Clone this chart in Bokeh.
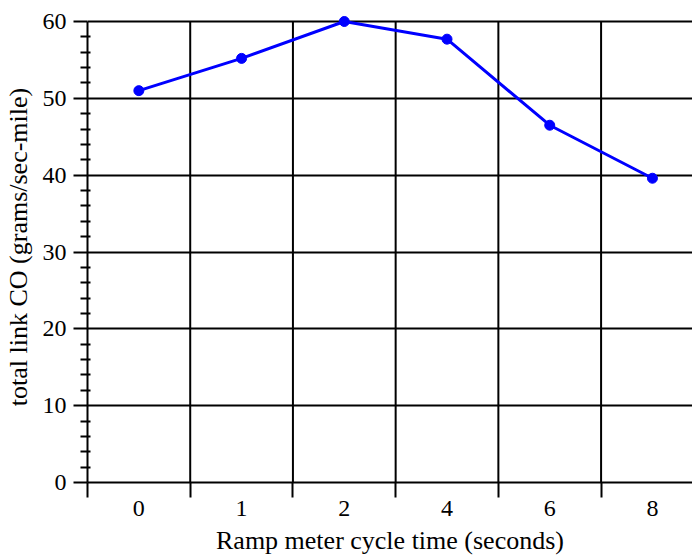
from bokeh.plotting import figure
from bokeh.models import FixedTicker, Range1d, ColumnDataSource
from bokeh.embed import file_html
from bokeh.resources import INLINE

categories = ["0", "1", "2", "4", "6", "8"]
co_values = [51.0, 55.2, 60.0, 57.7, 46.5, 39.6]
y_ticks = [0, 10, 20, 30, 40, 50, 60]
y_minor = [v for v in range(0, 61, 2) if v % 10 != 0]

idx = list(range(len(categories)))
bounds = [i - 0.5 for i in range(len(categories) + 1)]
src = ColumnDataSource(dict(x=idx, y=co_values))

FONT = "Liberation Serif"
Y_TOP = 60
px_per_unit = 461 / 60.0
y_end = Y_TOP + 10 / px_per_unit

p = figure(width=692, height=559, output_backend="svg", toolbar_location=None,
           x_range=Range1d(-0.5, len(categories) - 0.61), y_range=Range1d(0, y_end),
           min_border_left=87, min_border_right=0, min_border_top=11, min_border_bottom=77)
p.outline_line_color = None
p.background_fill_color = "white"
p.border_fill_color = "white"

# vertical separators between categories
p.segment(x0=bounds[1:], y0=[0] * (len(bounds) - 1), x1=bounds[1:], y1=[Y_TOP] * (len(bounds) - 1),
          line_color="black", line_width=2)

p.line("x", "y", source=src, line_color="#0000ff", line_width=3)
p.scatter("x", "y", source=src, size=10, color="#0000ff")

xa = p.xaxis[0]
xa.ticker = FixedTicker(ticks=idx, minor_ticks=bounds)
xa.major_label_overrides = {i: c for i, c in zip(idx, categories)}
xa.major_tick_line_color = None
xa.major_tick_out = 6
xa.minor_tick_line_color = "black"
xa.minor_tick_line_width = 2
xa.minor_tick_out = 15
xa.minor_tick_in = 0
xa.axis_line_width = 2
xa.axis_line_color = "black"
xa.axis_label = "Ramp meter cycle time (seconds)"
xa.axis_label_text_font = FONT
xa.axis_label_text_font_style = "normal"
xa.axis_label_text_font_size = "26px"
xa.axis_label_text_color = "black"
xa.major_label_text_font = FONT
xa.major_label_text_font_size = "24px"
xa.major_label_text_color = "black"
xa.major_label_standoff = 3
xa.axis_label_standoff = 7

ya = p.yaxis[0]
ya.bounds = (0, Y_TOP)
ya.ticker = FixedTicker(ticks=y_ticks, minor_ticks=y_minor)
ya.major_tick_line_width = 2
ya.major_tick_out = 14
ya.major_tick_in = 0
ya.minor_tick_line_width = 2
ya.minor_tick_out = 7
ya.minor_tick_in = 3
ya.axis_line_width = 2
ya.axis_line_color = "black"
ya.axis_label = "total link CO (grams/sec-mile)"
ya.axis_label_text_font = FONT
ya.axis_label_text_font_style = "normal"
ya.axis_label_text_font_size = "26px"
ya.axis_label_text_color = "black"
ya.major_label_text_font = FONT
ya.major_label_text_font_size = "24px"
ya.major_label_text_color = "black"
ya.major_label_standoff = 7
ya.axis_label_standoff = 7

p.xgrid.visible = False
p.ygrid.ticker = FixedTicker(ticks=y_ticks[1:])
p.ygrid.grid_line_color = "black"
p.ygrid.grid_line_width = 2

open("out.html", "w").write(file_html(p, INLINE))
